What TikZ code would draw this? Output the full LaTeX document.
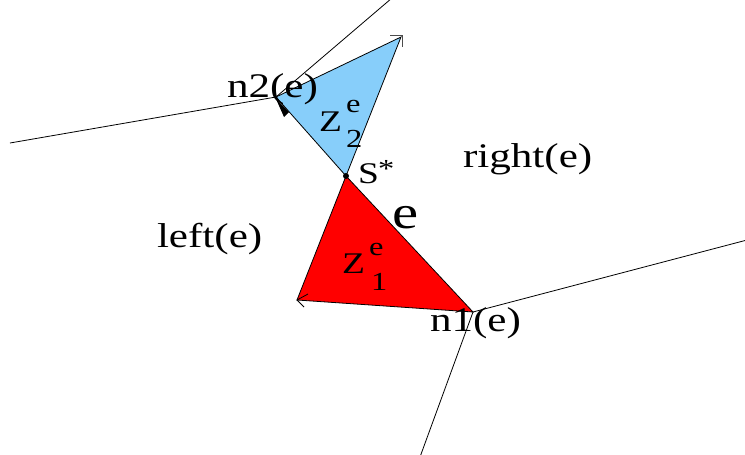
\documentclass[tikz,border=0pt]{standalone}
\usepackage{fontspec}
\setmainfont{Liberation Serif}
\newfontfamily\lblfont[FakeStretch=1.25]{Liberation Serif}
\usetikzlibrary{arrows.meta,calc}
\definecolor{zblue}{RGB}{135,206,250}
\definecolor{zred}{RGB}{255,0,0}
\tikzset{
  lbl/.style={anchor=base west, inner sep=0pt, outer sep=0pt, font=\lblfont\fontsize{34.5}{34.5}\selectfont},
  zlbl/.style={anchor=base west, inner sep=0pt, outer sep=0pt, font=\lblfont\fontsize{30}{30}\selectfont},
  idx/.style={anchor=base west, inner sep=0pt, outer sep=0pt, font=\lblfont\fontsize{26}{26}\selectfont},
  bigl/.style={anchor=base west, inner sep=0pt, outer sep=0pt, font=\lblfont\fontsize{47}{47}\selectfont},
  edge/.style={black, line width=0.8pt},
  tri/.style={black, line width=0.8pt, line join=miter},
}
\begin{document}
\begin{tikzpicture}[x=1pt,y=-1pt]
\useasboundingbox (0,0) rectangle (745,455);
% vertices
\coordinate (n2) at (276,97);
\coordinate (top) at (401,37);
\coordinate (s) at (346,176);
\coordinate (bl) at (297,300);
\coordinate (n1) at (473,312);
\coordinate (wl) at (10,143);
\coordinate (nt) at (392,-2);
\coordinate (er) at (747,240);
\coordinate (sb) at (420,457);
% triangles
\fill[zblue] (s) -- (top) -- (n2) -- cycle;
\draw[tri] (s) -- (top) -- (n2) -- cycle;
\fill[zred] (s) -- (n1) -- (bl) -- cycle;
\draw[tri] (s) -- (n1) -- (bl) -- cycle;
% outer lines
\draw[edge] (n2) -- (wl);
\draw[edge] (n2) -- (nt);
\draw[edge] (n1) -- (er);
\draw[edge] (n1) -- (sb);
% arrow tips
\draw[edge, draw=black!70] (390,35) -- (402,35) -- (402,47);
\draw[edge] ($(bl)+(11,-6)$) -- (bl) -- ($(bl)+(7,7)$);
\fill[black] (276,99) -- (289,112) -- (284,117) -- cycle;
% S* point
\fill[black] (s) circle (3);
% labels
\node[lbl] (ln2) at (227,97) {n2(e)};
\node[lbl] (lright) at (463,167) {right(e)};
\node[lbl] (lleft) at (157,247) {left(e)};
\node[lbl] (ln1) at (430,331) {n1(e)};
\node[zlbl] (ls) at (358,183) {S};
\node[idx] (lstar) at (378,177) {*};
\node[bigl] (le) at (392,228) {e};
\node[zlbl] (z2) at (319,131) {Z};
\node[idx] (z2e) at (346,112) {e};
\node[idx] (z2s) at (346,147) {2};
\node[zlbl] (z1) at (342,273) {Z};
\node[idx] (z1e) at (369,255) {e};
\node[idx] (z1s) at (371,290) {1};
\end{tikzpicture}
\end{document}
